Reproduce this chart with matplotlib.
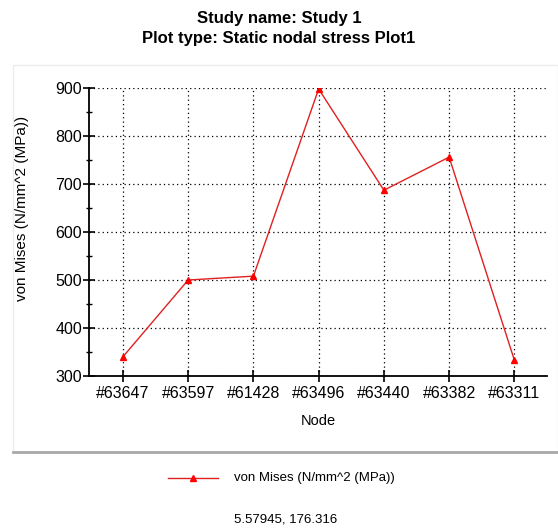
import matplotlib
matplotlib.use("Agg")
import matplotlib.pyplot as plt
from matplotlib.patches import Rectangle
from matplotlib.lines import Line2D
from matplotlib.ticker import MultipleLocator

nodes = ["#63647", "#63597", "#61428", "#63496", "#63440", "#63382", "#63311"]
von_mises = [340, 500, 508, 898, 687, 756, 333]

plt.rcParams['font.family'] = ['Liberation Sans', 'DejaVu Sans']

fig = plt.figure(figsize=(5.58, 5.30), dpi=100)
fig.patch.set_facecolor('white')

# panel frame
fig.patches.append(Rectangle((13/558, 1-452/530), 545/558, (452-65)/530,
                             transform=fig.transFigure, facecolor='none',
                             edgecolor='#ececec', linewidth=1.0, zorder=0))
fig.add_artist(Line2D([13/558, 1.0], [1-452/530, 1-452/530], transform=fig.transFigure,
                      color='#a8a8a8', linewidth=2.0))

ax = fig.add_axes([89/558, 1-376/530, (547-89)/558, (376-88)/530])
x = list(range(len(nodes)))
ax.plot(x, von_mises, color='#e02020', linewidth=1.0, marker='^', markersize=5,
        markerfacecolor='red', markeredgecolor='red', zorder=3)
ax.set_xlim(-0.52, 6.5)
ax.set_ylim(300, 900)
ax.set_xticks(x)
ax.set_xticklabels(nodes, fontsize=11.5)
ax.yaxis.set_major_locator(MultipleLocator(100))
ax.yaxis.set_minor_locator(MultipleLocator(50))
ax.tick_params(axis='y', which='major', direction='inout', length=8, width=1.2, labelsize=11.5, pad=1)
ax.tick_params(axis='y', which='minor', direction='inout', length=5, width=1.0)
ax.tick_params(axis='x', which='major', direction='inout', length=8, width=1.2, labelsize=11.5, pad=3)
ax.grid(True, which='major', linestyle=(0, (1, 2.5)), color='black', linewidth=0.9)
for s in ['top', 'right']:
    ax.spines[s].set_visible(False)
for s in ['left', 'bottom']:
    ax.spines[s].set_linewidth(1.3)
ax.set_xlabel('Node', fontsize=10.5)
ax.set_ylabel('von Mises (N/mm^2 (MPa))', fontsize=11)
ax.xaxis.set_label_coords(0.5, (376-421)/288, transform=ax.transAxes)
ax.yaxis.set_label_coords((22-89)/458, (376-208)/288, transform=ax.transAxes)
ax.xaxis.label.set_va('center')
ax.yaxis.label.set_va('center')

fig.text(0.5, 1-18/530, 'Study name: Study 1', ha='center', va='center',
         fontsize=12, fontweight='bold')
fig.text(0.5, 1-38/530, 'Plot type: Static nodal stress Plot1', ha='center', va='center',
         fontsize=12, fontweight='bold')

# legend
fig.add_artist(Line2D([168/558, 218/558], [1-478/530, 1-478/530], transform=fig.transFigure,
                      color='#e02020', linewidth=1.0))
fig.add_artist(Line2D([193/558], [1-478/530], transform=fig.transFigure,
                      color='red', marker='^', markersize=4, linestyle='none'))
fig.text(234/558, 1-478/530, 'von Mises (N/mm^2 (MPa))', ha='left', va='center', fontsize=9.5)
fig.text(234/558, 1-520/530, '5.57945, 176.316', ha='left', va='center', fontsize=9.5)

fig.savefig('out.png', dpi=100, facecolor='white')
